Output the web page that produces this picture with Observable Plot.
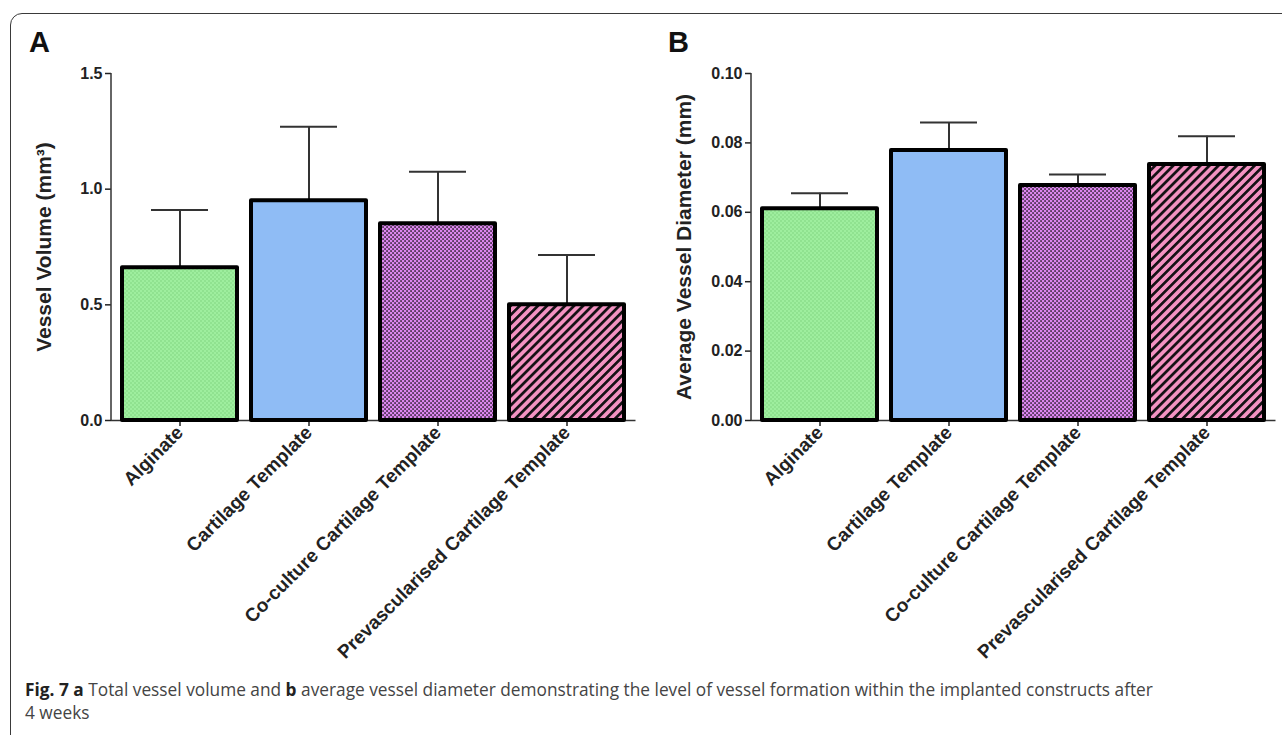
<!DOCTYPE html>
<html><head><meta charset="utf-8">
<script src="https://cdn.jsdelivr.net/npm/d3@7"></script>
<script src="https://cdn.jsdelivr.net/npm/@observablehq/plot@0.6"></script>
<style>
body{margin:0;background:#fff;width:1282px;height:735px;overflow:hidden;position:relative;}
#frame{position:absolute;left:10px;top:13px;width:1320px;height:800px;border:1.5px solid #3a3a3a;border-radius:12px;box-sizing:border-box;}
.panel{position:absolute;top:0;}
.letter{position:absolute;font:bold 29px "Liberation Sans",Arial,sans-serif;color:#111;}
#caption{position:absolute;left:25px;top:678px;font:17.3px/23px "Open Sans",sans-serif;color:#444;white-space:nowrap;}
#caption span.b{color:#222;font-weight:bold;}
.panel svg [aria-label="y-axis tick label"] text{font-size:16px !important;}
.panel svg [aria-label="y-axis label"] text{font-size:21px !important;}
.panel svg [aria-label="x-axis tick label"] text{font-size:19px !important;}
</style></head><body>
<div id="frame"></div>
<div class="letter" style="left:29px;top:26px">A</div>
<div class="letter" style="left:668px;top:26px">B</div>
<div id="pA" class="panel" style="left:0px"></div>
<div id="pB" class="panel" style="left:640px"></div>
<div id="caption"><div><span class="b">Fig. 7 a</span> <span>Total vessel volume and</span> <span class="b">b</span> <span>average vessel diameter demonstrating the level of vessel formation within the implanted constructs after</span></div><div>4 weeks</div></div>
<script>
const categories = ["Alginate", "Cartilage Template", "Co-culture Cartilage Template", "Prevascularised Cartilage Template"];
const volumeMean = [0.66, 0.95, 0.85, 0.50];
const volumeErr = [0.25, 0.32, 0.225, 0.215];
const diameterMean = [0.061, 0.0778, 0.0677, 0.0738];
const diameterErr = [0.0045, 0.0081, 0.0032, 0.0081];
const volumeTicks = [0, 0.5, 1.0, 1.5];
const diameterTicks = [0, 0.02, 0.04, 0.06, 0.08, 0.10];

function defs(id) {
  return () => {
    const s = d3.create("svg:defs");
    const p0 = s.append("pattern").attr("id", id + "-0").attr("width", 4).attr("height", 4).attr("patternUnits", "userSpaceOnUse");
    p0.append("rect").attr("width", 4).attr("height", 4).attr("fill", "#9eee9e");
    p0.append("circle").attr("cx", 1).attr("cy", 1).attr("r", 0.7).attr("fill", "#78cf78");
    p0.append("circle").attr("cx", 3).attr("cy", 3).attr("r", 0.7).attr("fill", "#78cf78");
    const p1 = s.append("pattern").attr("id", id + "-1").attr("width", 4).attr("height", 4).attr("patternUnits", "userSpaceOnUse");
    p1.append("rect").attr("width", 4).attr("height", 4).attr("fill", "#8fbcf5");
    const p2 = s.append("pattern").attr("id", id + "-2").attr("width", 4).attr("height", 4).attr("patternUnits", "userSpaceOnUse");
    p2.append("rect").attr("width", 4).attr("height", 4).attr("fill", "#dc86ee");
    p2.append("rect").attr("x", 0.3).attr("y", 0.3).attr("width", 1.5).attr("height", 1.5).attr("fill", "#151015");
    p2.append("rect").attr("x", 2.3).attr("y", 2.3).attr("width", 1.5).attr("height", 1.5).attr("fill", "#151015");
    const p3 = s.append("pattern").attr("id", id + "-3").attr("width", 6.4).attr("height", 6.4).attr("patternUnits", "userSpaceOnUse").attr("patternTransform", "rotate(45)");
    p3.append("rect").attr("width", 6.4).attr("height", 6.4).attr("fill", "#f392c2");
    p3.append("rect").attr("x", 0).attr("width", 2.7).attr("height", 6.4).attr("fill", "#141014");
    return s.node();
  };
}

function yLine(index, scales, values, dims) {
  const g = d3.create("svg:g");
  g.append("line")
    .attr("x1", dims.marginLeft).attr("x2", dims.marginLeft)
    .attr("y1", dims.marginTop).attr("y2", dims.height - dims.marginBottom)
    .attr("stroke", "#333").attr("stroke-width", 1.5);
  return g.node();
}

function panel({means, errs, domain, ticks, fmt, label, width, mRight, id}) {
  const rows = categories.map((c, i) => ({name: c, mean: means[i], top: means[i] + errs[i], fill: `url(#${id}-${i})`}));
  return Plot.plot({
    width, height: 680,
    marginLeft: 111, marginRight: mRight, marginTop: 73, marginBottom: 260,
    style: {fontFamily: "'Liberation Sans', Arial, sans-serif", fontWeight: "bold", color: "#222", background: "transparent", overflow: "visible"},
    x: {domain: categories, paddingInner: 0.112, paddingOuter: 0.081, label: null},
    y: {domain, label: null},
    color: {type: "identity"},
    marks: [
      defs(id),
      Plot.axisY({ticks, tickFormat: fmt, tickSize: 6, tickPadding: 3, fontSize: 16, strokeWidth: 1.5, label, labelAnchor: "center", labelArrow: "none", labelOffset: 75}),
      Plot.axisX({tickRotate: -45, tickSize: 6, tickPadding: 3, fontSize: 19, strokeWidth: 1.5, label: null}),
      yLine,
      Plot.ruleY([0], {stroke: "#333", strokeWidth: 1.5}),
      Plot.ruleX(rows, {x: "name", y1: "mean", y2: "top", stroke: "#333", strokeWidth: 2}),
      Plot.tickY(rows, {x: "name", y: "top", stroke: "#333", strokeWidth: 2, insetLeft: 29, insetRight: 29}),
      Plot.barY(rows, {x: "name", y: "mean", fill: "fill", stroke: "#000", strokeWidth: 4, strokeLinejoin: "round"})
    ]
  });
}

document.getElementById("pA").appendChild(panel({
  means: volumeMean, errs: volumeErr, domain: [0, 1.5], ticks: volumeTicks, fmt: d3.format(".1f"),
  label: "Vessel Volume (mm³)", width: 640, mRight: 4.5, id: "pa"
}));
document.getElementById("pB").appendChild(panel({
  means: diameterMean, errs: diameterErr, domain: [0, 0.1], ticks: diameterTicks, fmt: d3.format(".2f"),
  label: "Average Vessel Diameter (mm)", width: 642, mRight: 6.5, id: "pb"
}));
</script>
</body></html>
